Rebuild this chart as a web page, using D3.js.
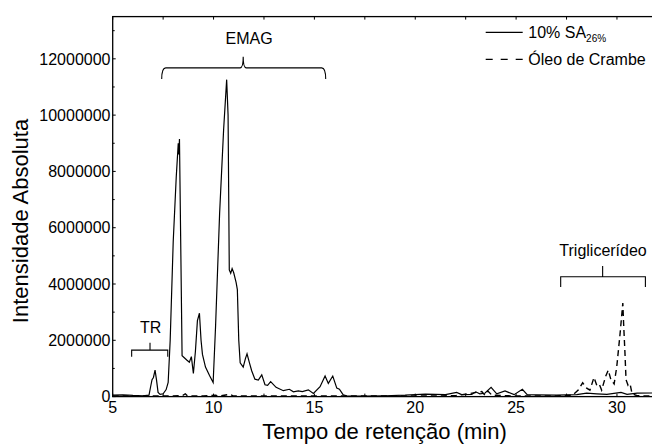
<!DOCTYPE html>
<html>
<head>
<meta charset="utf-8">
<script src="https://d3js.org/d3.v7.min.js"></script>
<style>
  body { margin: 0; background: #fff; }
  svg { display: block; font-family: "Liberation Sans", Arial, sans-serif; }
</style>
</head>
<body>
<script>
// 10% SA26% chromatogram (time in min, intensity in millions)
var saTime = [5.0, 5.5, 6.0, 6.5, 6.8, 6.88, 6.95, 7.02, 7.1, 7.17, 7.25, 7.35, 7.5, 7.65, 7.75, 7.85,
  8.0, 8.15, 8.25, 8.28, 8.31, 8.38, 8.44, 8.55, 8.67, 8.8, 8.9, 9.0, 9.1, 9.2, 9.3, 9.38, 9.45, 9.6,
  9.8, 9.98, 10.1, 10.3, 10.5, 10.65, 10.72, 10.78, 10.85, 10.92, 11.0, 11.12, 11.18, 11.25, 11.32,
  11.47, 11.58, 11.66, 11.78, 11.89, 12.05, 12.22, 12.39, 12.55, 12.68, 12.83, 13.1, 13.46, 13.76,
  13.96, 14.2, 14.4, 14.7, 14.95, 15.28, 15.53, 15.69, 15.91, 16.11, 16.24, 16.43, 16.6, 17.5, 18.5,
  19.5, 20.5, 21.5, 22.05, 22.3, 22.8, 23.0, 23.2, 23.45, 23.76, 24.04, 24.45, 24.9, 25.31, 25.55,
  26.0, 27.0, 28.0, 28.5, 29.0, 29.5, 30.2, 30.5, 31.0, 32.0];
var saValue = [0.05, 0.06, 0.04, 0.03, 0.05, 0.35, 0.6, 0.68, 0.94, 0.6, 0.15, 0.08, 0.1, 0.25, 0.5, 2.0,
  5.5, 7.8, 9.0, 8.6, 9.15, 5.0, 1.45, 1.38, 1.3, 1.22, 1.42, 0.82, 1.6, 2.7, 2.96, 2.0, 1.5, 1.05,
  0.75, 0.5, 2.5, 6.5, 9.5, 11.26, 10.0, 4.5, 4.38, 4.55, 4.4, 4.05, 3.8, 2.0, 1.2,
  1.05, 1.35, 1.52, 1.2, 0.92, 0.62, 0.59, 0.77, 0.42, 0.4, 0.53, 0.33, 0.21, 0.26,
  0.17, 0.2, 0.18, 0.24, 0.11, 0.35, 0.73, 0.47, 0.73, 0.3, 0.26, 0.06, 0.03, 0.02, 0.03,
  0.05, 0.09, 0.07, 0.15, 0.07, 0.08, 0.17, 0.1, 0.12, 0.33, 0.1, 0.2, 0.07, 0.26, 0.07,
  0.06, 0.05, 0.07, 0.12, 0.1, 0.08, 0.15, 0.08, 0.12, 0.13];

// Óleo de Crambe chromatogram
var crTime = [5.0, 6.0, 7.0, 8.0, 8.5, 8.6, 8.7, 9.5, 10.1, 10.3, 10.8, 11.0, 15.0, 20.0, 22.0, 23.3,
  23.45, 23.6, 23.8, 25.0, 27.0, 27.8, 28.08, 28.3, 28.5, 28.66, 28.86, 29.0, 29.12, 29.24, 29.44,
  29.57, 29.7, 29.86, 29.99, 30.15, 30.25, 30.29, 30.33, 30.4, 30.45, 30.55, 30.65, 30.75, 31.0, 32.0];
var crValue = [0.02, 0.02, 0.02, 0.02, 0.05, 0.1, 0.03, 0.02, 0.05, 0.02, 0.08, 0.02, 0.02, 0.02, 0.03, 0.18,
  0.05, 0.2, 0.05, 0.02, 0.02, 0.05, 0.23, 0.49, 0.3, 0.23, 0.68, 0.4, 0.45, 0.23, 0.72,
  0.94, 0.6, 0.45, 1.06, 2.2, 3.0, 3.32, 2.6, 1.5, 0.6, 0.4, 0.45, 0.1, 0.03, 0.02];

var xTicks = [5, 10, 15, 20, 25, 30];
var yTicks = [0, 2000000, 4000000, 6000000, 8000000, 10000000, 12000000];

// bracket annotations: [start, middle, end] in minutes, levels in millions
var bracketNames = ["EMAG", "TR", "Triglicerídeo"];
var bracketSpan = [[7.43, 11.47, 15.56], [5.94, 6.85, 7.73], [27.21, 29.29, 31.41]];
var bracketLevel = [[11.28, 11.68, 12.07], [1.42, 1.65, 1.91], [3.89, 4.26, 4.64]];
var bracketLabelPos = [[11.76, 12.51], [6.88, 2.25], [29.31, 5.0]];

var W = 652, H = 444;
var svg = d3.select("body").append("svg").attr("width", W).attr("height", H);

var x = d3.scaleLinear().domain([5, 32]).range([112.7, 657.3]);
var y = d3.scaleLinear().domain([0, 13.5e6]).range([396.6, 16.6]);

var ink = "#000";

// frame
svg.append("rect")
  .attr("x", x(5)).attr("y", y(13.5e6))
  .attr("width", x(32) - x(5)).attr("height", y(0) - y(13.5e6))
  .attr("fill", "none").attr("stroke", ink).attr("stroke-width", 1.3);

// ticks (inward)
var minorX = d3.range(5, 32.01, 2.5);
var minorY = d3.range(0, 13.5e6, 1e6);
svg.append("g").selectAll("line").data(minorX).enter().append("line")
  .attr("x1", d => x(d)).attr("x2", d => x(d))
  .attr("y1", y(0)).attr("y2", y(0) - 3)
  .attr("stroke", ink);
svg.append("g").selectAll("line").data(minorX).enter().append("line")
  .attr("x1", d => x(d)).attr("x2", d => x(d))
  .attr("y1", y(13.5e6)).attr("y2", y(13.5e6) + 3)
  .attr("stroke", ink);
svg.append("g").selectAll("line").data(minorY).enter().append("line")
  .attr("x1", x(5)).attr("x2", d => x(5) + (d % 2e6 === 0 ? 3 : 2))
  .attr("y1", d => y(d)).attr("y2", d => y(d))
  .attr("stroke", ink);

// tick labels
svg.append("g").selectAll("text").data(yTicks).enter().append("text")
  .attr("x", 110.5).attr("y", d => y(d)).attr("dy", "0.36em")
  .attr("text-anchor", "end").attr("font-size", 16).attr("fill", ink)
  .text(d => d);
svg.append("g").selectAll("text").data(xTicks).enter().append("text")
  .attr("x", d => x(d)).attr("y", 413)
  .attr("text-anchor", "middle").attr("font-size", 16).attr("fill", ink)
  .text(d => d);

// axis titles
svg.append("text")
  .attr("transform", "translate(28,221) rotate(-90)")
  .attr("text-anchor", "middle").attr("font-size", 22).attr("fill", ink)
  .text("Intensidade Absoluta");
svg.append("text")
  .attr("x", 384.5).attr("y", 438.5)
  .attr("text-anchor", "middle").attr("font-size", 22).attr("fill", ink)
  .text("Tempo de retenção (min)");

// curves
var clip = svg.append("clipPath").attr("id", "plot").append("rect")
  .attr("x", x(5)).attr("y", y(13.5e6))
  .attr("width", x(32) - x(5)).attr("height", y(0) - y(13.5e6));

var line = d3.line().x(d => x(d[0])).y(d => y(d[1] * 1e6));

svg.append("path")
  .datum(crTime.map((t, i) => [t, crValue[i]]))
  .attr("clip-path", "url(#plot)")
  .attr("d", line).attr("fill", "none")
  .attr("stroke", ink).attr("stroke-width", 1.4)
  .attr("stroke-dasharray", "6,4");

svg.append("path")
  .datum(saTime.map((t, i) => [t, saValue[i]]))
  .attr("clip-path", "url(#plot)")
  .attr("d", line).attr("fill", "none")
  .attr("stroke", ink).attr("stroke-width", 1.2);

// brackets
bracketNames.forEach(function (name, i) {
  var s = bracketSpan[i], l = bracketLevel[i];
  var x0 = x(s[0]), xm = x(s[1]), x1 = x(s[2]);
  var yEnd = y(l[0] * 1e6), yBar = y(l[1] * 1e6), yTop = y(l[2] * 1e6);
  var path;
  if (i === 0) {
    // curly style
    path = "M" + x0 + "," + yEnd + " Q" + x0 + "," + yBar + " " + (x0 + 4) + "," + yBar +
      " L" + (xm - 3) + "," + yBar + " Q" + xm + "," + yBar + " " + xm + "," + yTop +
      " Q" + xm + "," + yBar + " " + (xm + 3) + "," + yBar +
      " L" + (x1 - 4) + "," + yBar + " Q" + x1 + "," + yBar + " " + x1 + "," + yEnd;
  } else {
    path = "M" + x0 + "," + yEnd + " L" + x0 + "," + yBar + " L" + x1 + "," + yBar +
      " L" + x1 + "," + yEnd + " M" + xm + "," + yBar + " L" + xm + "," + yTop;
  }
  svg.append("path").attr("d", path).attr("fill", "none")
    .attr("stroke", ink).attr("stroke-width", 1.1);
  svg.append("text")
    .attr("x", x(bracketLabelPos[i][0])).attr("y", y(bracketLabelPos[i][1] * 1e6))
    .attr("text-anchor", "middle").attr("font-size", 16).attr("fill", ink)
    .text(name);
});

// legend
var lg = svg.append("g");
lg.append("line").attr("x1", 485.7).attr("x2", 522.7).attr("y1", 32.3).attr("y2", 32.3)
  .attr("stroke", ink).attr("stroke-width", 1.2);
var t1 = lg.append("text").attr("x", 528.3).attr("y", 38).attr("font-size", 16).attr("fill", ink);
t1.append("tspan").text("10% SA");
t1.append("tspan").attr("font-size", 10).attr("dy", 4).text("26%");
lg.append("line").attr("x1", 485.7).attr("x2", 522.7).attr("y1", 59.3).attr("y2", 59.3)
  .attr("stroke", ink).attr("stroke-width", 1.2).attr("stroke-dasharray", "7,8");
lg.append("text").attr("x", 528.3).attr("y", 64.5).attr("font-size", 16).attr("fill", ink)
  .text("Óleo de Crambe");
</script>
</body>
</html>
